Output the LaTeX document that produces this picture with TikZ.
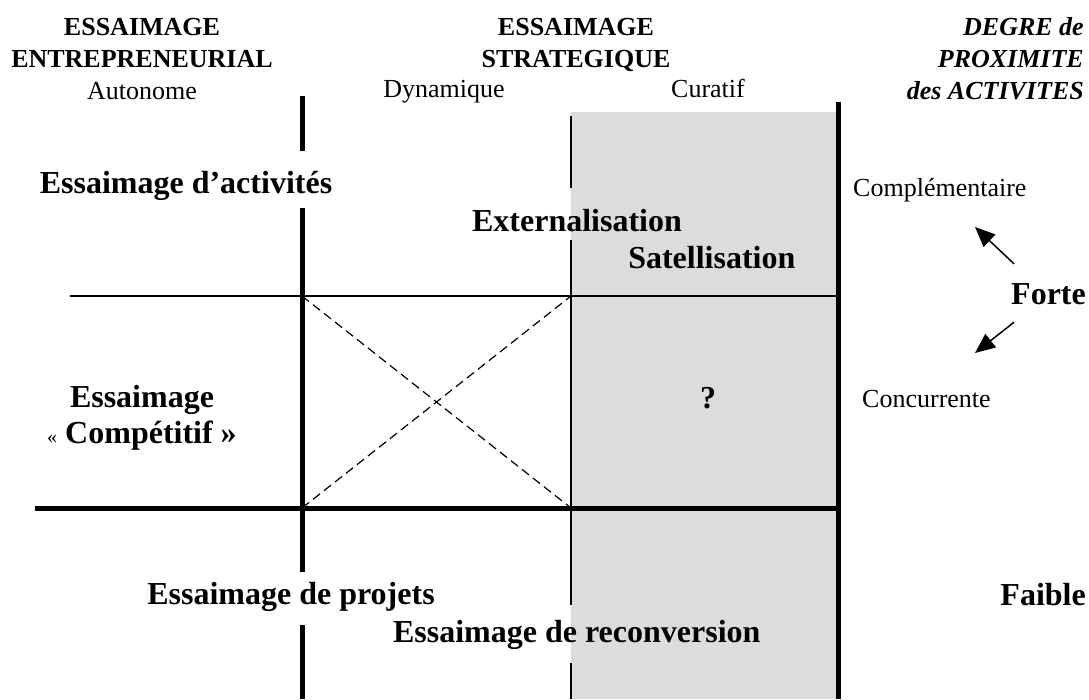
\documentclass[tikz,border=0pt]{standalone}
\usepackage{fontspec}
\setmainfont{Liberation Serif}
\usepackage{xcolor}
\usetikzlibrary{positioning,arrows.meta}
\definecolor{curgray}{RGB}{220,220,220}

\begin{document}
\begin{tikzpicture}[x=1pt,y=-1pt,%
  hd/.style={font=\fontsize{26}{32}\selectfont\bfseries,inner sep=0pt,align=center},%
  sub/.style={font=\fontsize{26}{32}\selectfont,inner sep=0pt,anchor=base},%
  lab/.style={font=\fontsize{32}{38}\selectfont\bfseries,inner sep=0pt,text height=22pt,text depth=7pt},%
  heavy/.style={line width=5pt},%
  light/.style={line width=1.3pt},%
  cross/.style={line width=1.2pt,dash pattern=on 9pt off 5pt},%
  arr/.style={-{Triangle[length=20pt,width=17pt]},line width=1.5pt}%
  ]
  \useasboundingbox (0,0) rectangle (1089,699);
  \fill[curgray] (571,112) rectangle (838,699);
%
  \node (ent) [hd,anchor=north] at (142,18) {ESSAIMAGE\\ENTREPRENEURIAL\\{\mdseries Autonome}};
  \node (str) [hd,anchor=north] at (576,18) {ESSAIMAGE\\STRATEGIQUE};
  \node (dyn) [sub] at (444,97) {Dynamique};
  \node (cura) [sub] at (708,97) {Curatif};
  \node (deg) [hd,font=\fontsize{26}{32}\selectfont\bfseries\itshape,align=right,anchor=north east] at (1084,17) {DEGRE de\\PROXIMITE\\des ACTIVITES};
%
  \node (act) [lab,anchor=base] at (186,193) {Essaimage d’activités};
  \node (ext) [lab,anchor=base] at (577,231) {Externalisation};
  \node (sat) [lab,below right=8pt and -54pt of ext] {Satellisation};
  \node (ess) [lab,anchor=base] at (142,407) {Essaimage};
  \node (cpt) [lab,below=7pt of ess] {{\fontsize{20}{24}\selectfont\mdseries «}~Compétitif~»};
  \node (q) [lab,anchor=base] at (708,408) {?};
  \node (proj) [lab,anchor=base] at (291,604) {Essaimage de projets};
  \node (reco) [lab,below right=9pt and -42pt of proj] {Essaimage de reconversion};
%
  \node (comp) [sub,anchor=base west] at (853,196) {Complémentaire};
  \node (conc) [sub,anchor=base west] at (862,407) {Concurrente};
  \node (forte) [lab,anchor=base east] at (1086,304) {Forte};
  \node (faib) [lab,anchor=base east] at (1086,605) {Faible};
  \coordinate (up) at (975,227);
  \coordinate (down) at (975,353);
%
  \draw[heavy] (302,96) -- (302,151) (302,208) -- (302,572) (302,625) -- (302,699);
  \draw[light] (571,116) -- (571,188) (571,240) -- (571,605) (571,663) -- (571,699);
  \draw[heavy] (838,102) -- (838,699);
  \draw[light] (70,296) -- (838,296);
  \draw[heavy] (35,508) -- (840.5,508);
  \draw[cross] (302,296) -- (571,508) (302,508) -- (571,296);
%
  \draw[arr] ([shift={(3,-18)}]forte.north west) -- (up);
  \draw[arr] ([shift={(3,11)}]forte.south west) -- (down);
%
\end{tikzpicture}
\end{document}
